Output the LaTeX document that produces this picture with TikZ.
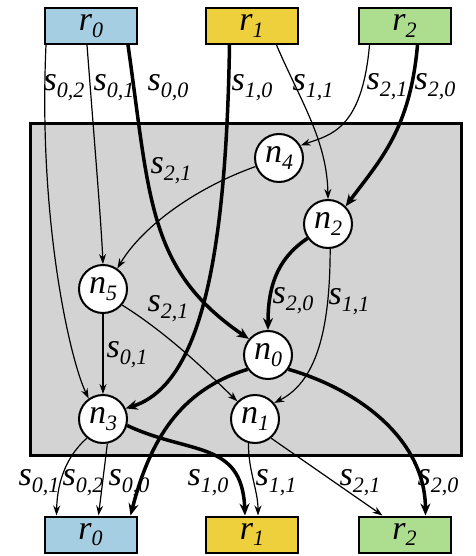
\documentclass[tikz,border=0pt]{standalone}
\usepackage{fontspec}
\setmainfont{Liberation Serif}
\usetikzlibrary{arrows.meta}
\definecolor{boxblue}{HTML}{A6CEE3}
\definecolor{boxyellow}{HTML}{EED03C}
\definecolor{boxgreen}{HTML}{ADDD8E}
\definecolor{areagray}{HTML}{D3D3D3}
\newcommand{\bigfont}{\fontsize{34}{38}\selectfont\itshape}
\newcommand{\idx}[1]{\raisebox{-0.2em}{\fontsize{22}{22}\selectfont #1}}

\begin{document}
\begin{tikzpicture}[x=1pt, y=-1pt, font=\bigfont,
  res/.style={draw, line width=2pt, minimum width=92pt, minimum height=36pt, inner sep=0pt},
  proc/.style={circle, draw, fill=white, line width=2pt, minimum size=48pt, inner sep=0pt},
  lightflow/.style={line width=1.2pt, -{Stealth[length=10pt,width=7pt]}},
  heavyflow/.style={line width=3.5pt, -{Stealth[length=12pt,width=10pt]}}]
\useasboundingbox (0,0) rectangle (475,556);
\fill[white] (0,0) rectangle (475,556);
\draw[fill=areagray, line width=3pt] (30,124) rectangle (461,455);

\node[res, fill=boxblue] (rA0) at (91,26) {r\idx{0}};
\node[res, fill=boxyellow] (rA1) at (251.5,26) {r\idx{1}};
\node[res, fill=boxgreen] (rA2) at (404.5,26) {r\idx{2}};
\node[res, fill=boxblue] (rB0) at (90.5,534.5) {r\idx{0}};
\node[res, fill=boxyellow] (rB1) at (252,534.5) {r\idx{1}};
\node[res, fill=boxgreen] (rB2) at (404.5,534.5) {r\idx{2}};

\node[proc] (n4) at (279,158) {n\idx{4}};
\node[proc] (n2) at (328,224) {n\idx{2}};
\node[proc] (n5) at (103,289) {n\idx{5}};
\node[proc] (n0) at (268,355) {n\idx{0}};
\node[proc] (n3) at (103,419) {n\idx{3}};
\node[proc] (n1) at (255,419) {n\idx{1}};

\node (t02) at (64,88) {s\idx{0,2}};
\node (t01) at (114,88) {s\idx{0,1}};
\node (t00) at (168,88) {s\idx{0,0}};
\node (t10) at (252,88) {s\idx{1,0}};
\node (t11) at (313,88) {s\idx{1,1}};
\node (t21) at (387,87) {s\idx{2,1}};
\node (t20) at (435,87) {s\idx{2,0}};

\node (m21a) at (171,171) {s\idx{2,1}};
\node (m20) at (293,301) {s\idx{2,0}};
\node (m11) at (349,302) {s\idx{1,1}};
\node (m21b) at (168,309) {s\idx{2,1}};
\node (m01) at (127,355) {s\idx{0,1}};

\node (b01) at (39,483) {s\idx{0,1}};
\node (b02) at (83,483) {s\idx{0,2}};
\node (b00) at (129,483) {s\idx{0,0}};
\node (b10) at (208,483) {s\idx{1,0}};
\node (b11) at (276,483) {s\idx{1,1}};
\node (b21) at (360,483) {s\idx{2,1}};
\node (b20) at (438,483) {s\idx{2,0}};

\draw[lightflow] ([xshift=-45pt]rA0.south) .. controls (38,220) and (70,360) .. (n3.125);
\draw[lightflow] ([xshift=-4pt]rA0.south) .. controls (95,150) and (101,220) .. (n5.north);
\draw[heavyflow] ([xshift=37pt]rA0.south) .. controls (150,200) and (148,270) .. (n0.140);
\draw[heavyflow] ([xshift=-22pt]rA1.south) .. controls (226,260) and (200,385) .. (n3.25);
\draw[lightflow] ([xshift=25pt]rA1.south) .. controls (300,100) and (327,140) .. (n2.north);
\draw[lightflow] ([xshift=-35pt]rA2.south) .. controls (362,130) and (330,135) .. (n4.30);
\draw[heavyflow] ([xshift=13pt]rA2.south) .. controls (410,130) and (380,160) .. (n2.45);
\draw[lightflow] (n4.200) .. controls (190,190) and (140,230) .. (n5.55);
\draw[heavyflow] (n2.215) .. controls (275,260) and (268,290) .. (n0.north);
\draw[lightflow] (n2.275) .. controls (330,320) and (320,380) .. (n1.40);
\draw[lightflow] (n5) -- (n3);
\draw[lightflow] (n5.-40) .. controls (170,335) and (210,375) .. (n1.135);
\draw[lightflow] (n3.230) .. controls (62,460) and (57,490) .. ([xshift=-34pt]rB0.north);
\draw[lightflow] (n3.-80) -- ([xshift=8pt]rB0.north);
\draw[heavyflow] (n0.215) .. controls (180,390) and (150,440) .. ([xshift=40pt]rB0.north);
\draw[heavyflow] (n3.-15) .. controls (190,455) and (242,440) .. ([xshift=-7pt]rB1.north);
\draw[lightflow] (n1.-105) .. controls (248,470) and (258,490) .. ([xshift=6pt]rB1.north);
\draw[lightflow] (n1.-50) -- ([xshift=-22pt]rB2.north);
\draw[heavyflow] (n0.-35) .. controls (360,390) and (425,440) .. ([xshift=21pt]rB2.north);
\end{tikzpicture}
\end{document}
